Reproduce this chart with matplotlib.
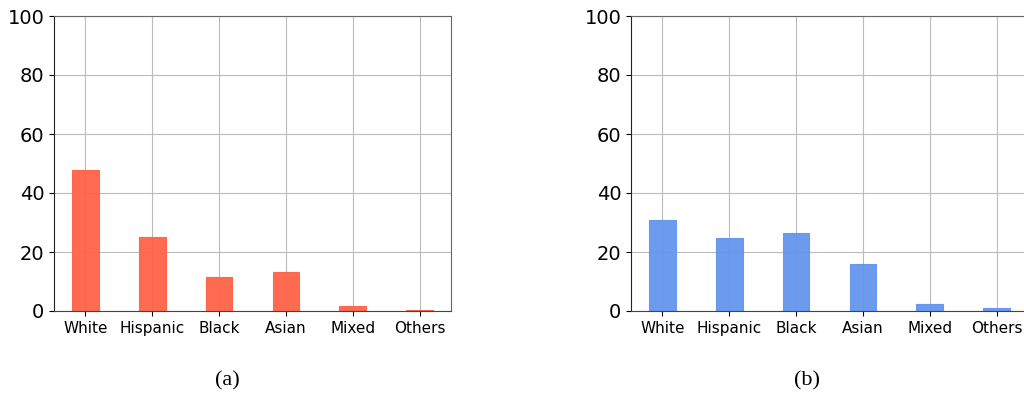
import numpy as np
import matplotlib
matplotlib.use("Agg")
import matplotlib.pyplot as plt

groups = ["White", "Hispanic", "Black", "Asian", "Mixed", "Others"]
share_a = [47.8, 25.0, 11.6, 13.2, 1.8, 0.3]
share_b = [30.8, 24.6, 26.3, 15.9, 2.4, 0.9]


def draw_panel(ax, vals, col):
    x = np.arange(len(groups))
    ax.bar(x, vals, width=0.4, color=col, edgecolor=col, linewidth=0.8, alpha=0.95, zorder=2)
    ax.set_xticks(x)
    ax.set_xticklabels(groups, fontsize=11)
    ax.set_ylim(0, 100)
    ax.set_yticks([0, 20, 40, 60, 80, 100])
    ax.tick_params(axis="y", labelsize=14)
    ax.grid(True, color="#bbbbbb", linewidth=0.8, zorder=0)
    ax.set_axisbelow(True)
    ax.spines["left"].set_color("#222222")
    ax.spines["bottom"].set_color("#444444")
    for s in ["top", "right"]:
        ax.spines[s].set_color("#666666")


fig = plt.figure(figsize=(10.24, 3.94), dpi=100)
ax1 = fig.add_axes([54 / 1024, 83 / 394, 397 / 1024, 295 / 394])
ax2 = fig.add_axes([631 / 1024, 83 / 394, 397 / 1024, 295 / 394])

draw_panel(ax1, share_a, "tomato")
draw_panel(ax2, share_b, "cornflowerblue")

fig.text(227 / 1024, 1 - 381 / 394, "(a)", ha="center", va="center",
         family="Liberation Serif", fontsize=16)
fig.text(807 / 1024, 1 - 381 / 394, "(b)", ha="center", va="center",
         family="Liberation Serif", fontsize=16)

fig.savefig("out.png", dpi=100)
